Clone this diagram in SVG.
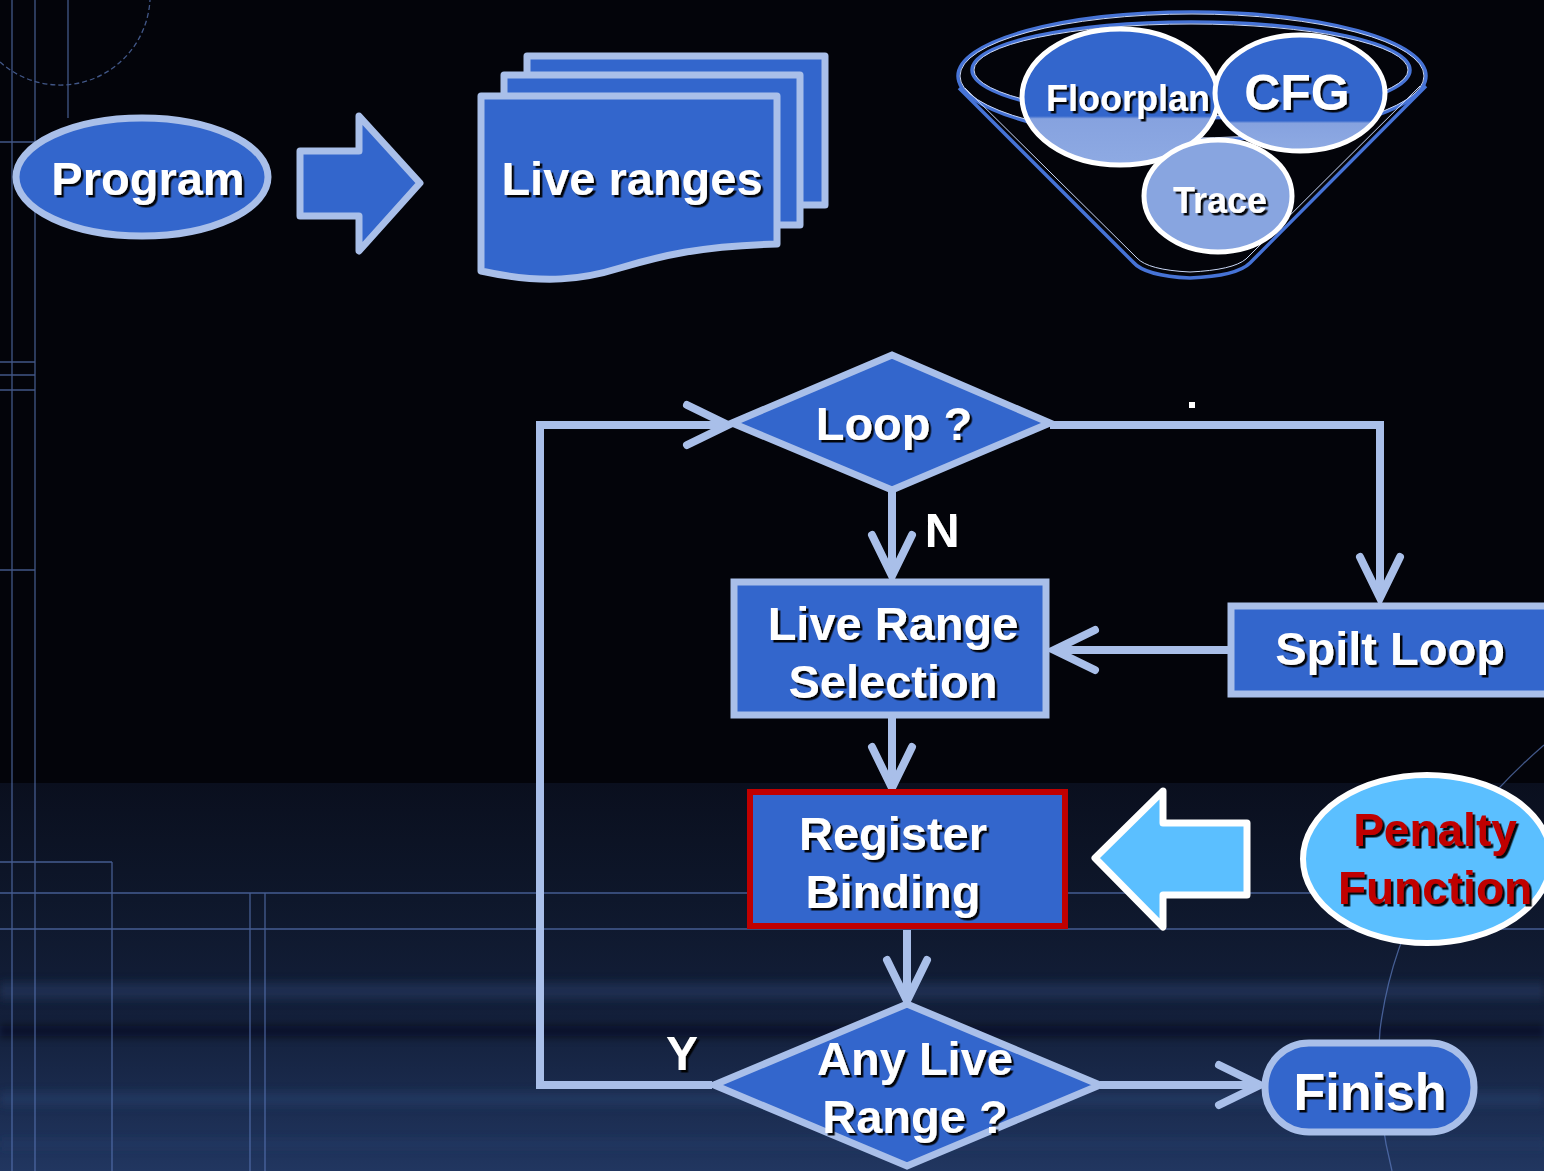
<svg xmlns="http://www.w3.org/2000/svg" width="1544" height="1171" viewBox="0 0 1544 1171">
<defs>
<style>
.t{font-family:"Liberation Sans",Arial,sans-serif;font-weight:bold;fill:#fff;text-anchor:middle;filter:url(#sh)}
.node{fill:#3366cc;stroke:#a9bfe9;stroke-width:7}
.con{fill:none;stroke:#a9bfe9;stroke-width:8;marker-end:url(#ah)}
.bg{stroke:#5d7bbd;stroke-width:1.3;fill:none;opacity:.7}
.rim{fill:none;stroke:#4673d6;stroke-width:3.5}
.rimh{fill:none;stroke:#c9d7f6;stroke-width:1}
.band{filter:url(#bl)}
</style>
<filter id="sh" x="-10%" y="-10%" width="130%" height="140%"><feDropShadow dx="2.5" dy="2.5" stdDeviation="0.6" flood-color="#000" flood-opacity="0.95"/></filter>
<filter id="bl" x="-5%" y="-100%" width="110%" height="300%"><feGaussianBlur stdDeviation="3 5"/></filter>
<marker id="ah" viewBox="-50 -25 60 50" refX="0" refY="0" markerUnits="userSpaceOnUse" markerWidth="60" markerHeight="50" orient="auto" overflow="visible">
<path d="M-41,-20 L0,0 L-41,20" fill="none" stroke="#a9bfe9" stroke-width="8" stroke-linecap="round" stroke-linejoin="miter"/>
</marker>
<linearGradient id="bot" x1="0" y1="0" x2="0" y2="1">
<stop offset="0" stop-color="#0a0f1e"/><stop offset="0.3" stop-color="#0e172b"/><stop offset="0.6" stop-color="#131f3a"/><stop offset="1" stop-color="#213660"/>
</linearGradient>
<linearGradient id="fp" x1="0" y1="0" x2="0" y2="1">
<stop offset="0.64" stop-color="#3366cc"/><stop offset="0.66" stop-color="#86a2df"/><stop offset="1" stop-color="#8eaae3"/>
</linearGradient>
<linearGradient id="cf" x1="0" y1="0" x2="0" y2="1">
<stop offset="0.74" stop-color="#3366cc"/><stop offset="0.76" stop-color="#86a2df"/><stop offset="1" stop-color="#8eaae3"/>
</linearGradient>
</defs>

<!-- background -->
<rect width="1544" height="1171" fill="#03040a"/>
<rect x="0" y="783" width="1544" height="388" fill="url(#bot)"/>
<g class="band">
<rect x="0" y="983" width="1544" height="16" fill="#2a416c" opacity=".5"/>
<rect x="0" y="1026" width="1544" height="10" fill="#060a15" opacity=".6"/>
<rect x="0" y="1093" width="1544" height="12" fill="#30497a" opacity=".4"/>
<rect x="0" y="1140" width="1544" height="8" fill="#2c4474" opacity=".35"/>
</g>
<g class="bg">
<line x1="12" y1="0" x2="12" y2="1171"/>
<line x1="35" y1="0" x2="35" y2="1171"/>
<line x1="68" y1="0" x2="68" y2="118"/>
<line x1="0" y1="142" x2="35" y2="142"/>
<line x1="0" y1="362" x2="35" y2="362"/>
<line x1="0" y1="375" x2="35" y2="375"/>
<line x1="0" y1="390" x2="35" y2="390"/>
<line x1="0" y1="570" x2="35" y2="570"/>
<line x1="0" y1="862" x2="112" y2="862"/>
<line x1="112" y1="862" x2="112" y2="1171"/>
<line x1="0" y1="893" x2="1544" y2="893"/>
<line x1="0" y1="929" x2="1544" y2="929"/>
<line x1="250" y1="893" x2="250" y2="1171"/>
<line x1="265" y1="893" x2="265" y2="1171"/>
<path d="M0,62 A90,90 0 0 0 150,0" stroke-dasharray="5 3"/>
<path d="M1544,745 Q1400,870 1380,1030 Q1374,1100 1392,1171"/>
</g>
<rect x="1189" y="402" width="6" height="6" fill="#fff"/>

<!-- connectors -->
<g id="connectors">
<path class="con" d="M712,1085 H540 V425 H728"/>
<path class="con" d="M1050,425 H1380 V598"/>
<path class="con" d="M892,492 V576"/>
<path class="con" d="M1228,650 H1054"/>
<path class="con" d="M892,718 V788"/>
<path class="con" d="M907,930 V1001"/>
<path class="con" d="M1100,1085 H1260"/>
</g>

<g id="program">
<ellipse class="node" cx="142" cy="177" rx="126" ry="59"/>
<text class="t" x="148" y="195" font-size="47">Program</text>
</g>

<g id="arrow-right">
<path class="node" d="M300,151 H359 V116 L420,183 L359,251 V216 H300 Z" stroke-linejoin="round"/>
</g>

<g id="live-ranges">
<path class="node" d="M527,56 H825 V205 H527 Z" stroke-linejoin="round"/>
<path class="node" d="M504,75 H800 V225 H504 Z" stroke-linejoin="round"/>
<path class="node" d="M481,96 H777 V244 C700,246 660,256 620,268 C585,279 545,285 481,271 Z" stroke-linejoin="round"/>
<text class="t" x="632" y="195" font-size="47">Live ranges</text>
</g>

<g id="funnel">
<ellipse class="rim" cx="1192" cy="76" rx="234" ry="64"/>
<ellipse class="rimh" cx="1192" cy="76" rx="232" ry="62"/>
<ellipse class="rim" cx="1191" cy="70" rx="219" ry="48"/>
<ellipse class="rimh" cx="1191" cy="70" rx="217" ry="46"/>
<path class="rim" d="M959,88 L1133,262 Q1145,276 1190,278 Q1237,276 1250,263 L1426,86"/>
<path class="rimh" d="M965,88 L1137,258 Q1148,270 1190,272 Q1233,270 1246,259 L1420,86"/>
</g>

<g id="floorplan">
<ellipse cx="1120" cy="97" rx="98" ry="68" fill="url(#fp)" stroke="#fff" stroke-width="5"/>
<text class="t" x="1128" y="111" font-size="36">Floorplan</text>
</g>

<g id="cfg">
<ellipse cx="1300" cy="93" rx="85" ry="58" fill="url(#cf)" stroke="#fff" stroke-width="5"/>
<text class="t" x="1297" y="110" font-size="50">CFG</text>
</g>

<g id="trace">
<ellipse cx="1218" cy="196" rx="74" ry="56" fill="#88a5e0" stroke="#fff" stroke-width="5"/>
<text class="t" x="1220" y="213" font-size="36">Trace</text>
</g>

<g id="loop">
<path class="node" d="M732,423 L892,355 L1050,423 L892,490 Z"/>
<text class="t" x="894" y="440" font-size="47">Loop ?</text>
</g>

<text class="t" x="942" y="547" font-size="48">N</text>

<g id="live-range-selection">
<rect class="node" x="734" y="582" width="312" height="133"/>
<text class="t" x="893" y="640" font-size="47">Live Range</text>
<text class="t" x="893" y="698" font-size="47">Selection</text>
</g>

<g id="spilt-loop">
<rect class="node" x="1231" y="606" width="330" height="88"/>
<text class="t" x="1390" y="665" font-size="47">Spilt Loop</text>
</g>

<g id="register-binding">
<rect x="750" y="792" width="315" height="134" fill="#3366cc" stroke="#c00000" stroke-width="6"/>
<text class="t" x="893" y="850" font-size="47">Register</text>
<text class="t" x="893" y="908" font-size="47">Binding</text>
</g>

<g id="penalty-arrow">
<path d="M1247,823 H1163 V791 L1095,858 L1163,927 V895 H1247 Z" fill="#5bbfff" stroke="#fff" stroke-width="7" stroke-linejoin="round"/>
</g>

<g id="penalty-function">
<ellipse cx="1427" cy="859" rx="124" ry="84" fill="#5bbfff" stroke="#fff" stroke-width="6"/>
<text class="t" x="1435" y="846" font-size="46" style="fill:#c00000">Penalty</text>
<text class="t" x="1435" y="904" font-size="46" style="fill:#c00000">Function</text>
</g>

<g id="any-live-range">
<path class="node" d="M714,1085 L907,1004 L1100,1085 L907,1166 Z"/>
<text class="t" x="915" y="1075" font-size="47">Any Live</text>
<text class="t" x="915" y="1133" font-size="47">Range ?</text>
</g>

<text class="t" x="682" y="1070" font-size="48">Y</text>

<g id="finish">
<rect class="node" x="1265" y="1043" width="209" height="89" rx="44" ry="44"/>
<text class="t" x="1370" y="1110" font-size="52">Finish</text>
</g>
</svg>
